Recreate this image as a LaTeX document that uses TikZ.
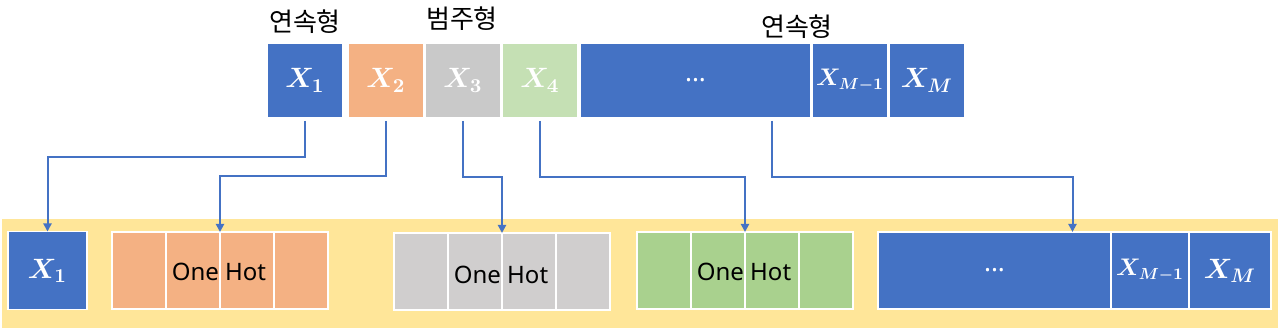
\documentclass[tikz,border=0pt]{standalone}
\usepackage{fix-cm}
\usepackage{fontspec}
\setmainfont{Noto Sans CJK KR}
\newfontfamily\latinsans{Noto Sans}
\usepackage{amsmath,bm}
\usepackage{tikz}
\usetikzlibrary{positioning,arrows.meta,calc}
\usepackage{xcolor}

\definecolor{xblue}{HTML}{4472C4}
\definecolor{xorange}{HTML}{F4B183}
\definecolor{xgray}{HTML}{C9C9C9}
\definecolor{xgreen}{HTML}{C5E0B4}
\definecolor{bgray}{HTML}{D0CECE}
\definecolor{bgreen}{HTML}{A9D18E}
\definecolor{xyellow}{HTML}{FFE699}

\newcommand{\colsep}{{\latinsans\bfseries\fontsize{13}{15}\selectfont ...}}

\begin{document}
\begin{tikzpicture}[
    x=0.5pt, y=-0.5pt,
    font=\fontsize{14}{16}\selectfont,
    >={Triangle[length=4pt,width=4pt]},
    cell/.style={draw=white, line width=0.6pt, minimum height=37.5pt, inner sep=0pt, outer sep=0pt, text=white},
    lowcell/.style={cell, minimum height=38.5pt},
    narrow/.style={font=\fontsize{12}{14}\selectfont, text width=#1, align=center},
    group/.style={font=\latinsans\fontsize{12}{14}\selectfont, text=black, inner sep=0pt},
    kind/.style={font=\fontsize{13}{15}\selectfont},
    link/.style={->, draw=xblue, line width=1pt, shorten <=1.5pt},
  ]
    \useasboundingbox (0,0) rectangle (1280,330);
    \fill[xyellow] (2,219) rectangle (1278,328);

    % input columns
    \node[cell, fill=xblue, minimum width=38pt] (x1) at (305,80.5) {$\boldsymbol{X_1}$};
    \node[cell, fill=xorange, minimum width=38pt] (x2) at (386,80.5) {$\boldsymbol{X_2}$};
    \node[cell, fill=xgray, minimum width=38pt, right=0.5pt of x2] (x3) {$\boldsymbol{X_3}$};
    \node[cell, fill=xgreen, minimum width=38pt, right=0.5pt of x3] (x4) {$\boldsymbol{X_4}$};
    \node[cell, fill=xblue, minimum width=115.5pt, right=1pt of x4] (dots) {\colsep};
    \node[cell, fill=xblue, narrow=38pt, right=0.5pt of dots] (xm1) {$\boldsymbol{X_{M-1}}$};
    \node[cell, fill=xblue, minimum width=38pt, right=0.5pt of xm1] (xm) {$\boldsymbol{X_M}$};

    \node[kind] (cont1) at (305,22) {연속형};
    \node[kind] (cat) at (462,19) {범주형};
    \node[kind] (cont2) at (797,27) {연속형};

    % encoded columns
    \node[lowcell, fill=xblue, minimum width=39.5pt, minimum height=39pt] (b1) at (47.5,270.5) {$\boldsymbol{X_1}$};
    \foreach \i in {0,...,3} {
      \node[lowcell, fill=xorange, minimum width=27pt] (oh2-\i) at ({139+54*\i},270.5) {};
      \node[lowcell, fill=bgray, minimum width=27pt] (oh3-\i) at ({421+54*\i},271.5) {};
      \node[lowcell, fill=bgreen, minimum width=27pt] (oh4-\i) at ({664+54*\i},270.5) {};
    }
    \node[group] (t2) at ($(oh2-1.east)+(-1,1)$) {One Hot};
    \node[group] (t3) at ($(oh3-1.east)+(-1,3)$) {One Hot};
    \node[group] (t4) at ($(oh4-1.east)+(-1,1)$) {One Hot};

    \node[lowcell, fill=xblue, minimum width=116.5pt] (bdots) at (994.5,270.5) {\colsep};
    \node[lowcell, fill=xblue, narrow=39pt, right=0pt of bdots] (bm1) {$\boldsymbol{X_{M-1}}$};
    \node[lowcell, fill=xblue, minimum width=41pt, right=0pt of bm1] (bm) {$\boldsymbol{X_M}$};

    % connectors
    \coordinate (dsrc) at ([xshift=38.25pt]dots.south);
    \coordinate (ddst) at ([xshift=39pt]bdots.north);
    \draw[link] (x1.south) -- (x1.south |- 0,157) -| (b1.north);
    \draw[link] (x2.south) -- (x2.south |- 0,176) -| (oh2-1.north east);
    \draw[link] (x3.south) -- (x3.south |- 0,177) -| (oh3-1.north east);
    \draw[link] (x4.south) -- (x4.south |- 0,177) -| (oh4-1.north east);
    \draw[link] (dsrc) -- (dsrc |- 0,177) -| (ddst);
  \end{tikzpicture}
\end{document}
